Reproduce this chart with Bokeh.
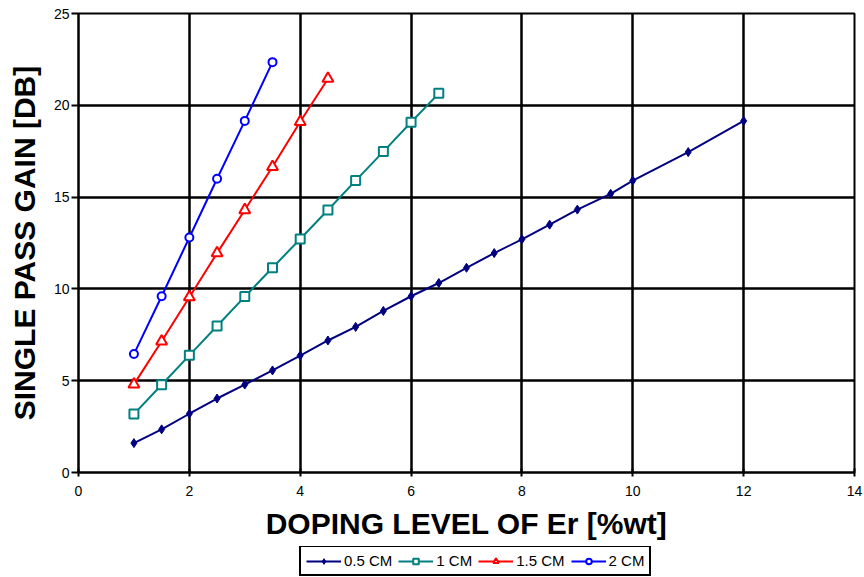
from bokeh.plotting import figure
from bokeh.layouts import column
from bokeh.models import Range1d, Legend, LegendItem, FixedTicker
from bokeh.embed import file_html
from bokeh.resources import INLINE

# ---- data ----
x_05 = [1, 1.5, 2, 2.5, 3, 3.5, 4, 4.5, 5, 5.5, 6, 6.5, 7, 7.5, 8, 8.5, 9, 9.6, 10, 11, 12]
y_05 = [1.6, 2.35, 3.2, 4.03, 4.79, 5.56, 6.37, 7.19, 7.93, 8.8, 9.6, 10.32, 11.15, 11.95,
        12.7, 13.5, 14.32, 15.18, 15.9, 17.45, 19.15]
x_1 = [1, 1.5, 2, 2.5, 3, 3.5, 4, 4.5, 5, 5.5, 6, 6.5]
y_1 = [3.18, 4.78, 6.38, 7.98, 9.58, 11.15, 12.72, 14.3, 15.9, 17.48, 19.08, 20.65]
x_15 = [1, 1.5, 2, 2.5, 3, 3.5, 4, 4.5]
y_15 = [4.8, 7.15, 9.55, 11.95, 14.3, 16.65, 19.1, 21.45]
x_2 = [1, 1.5, 2, 2.5, 3, 3.5]
y_2 = [6.45, 9.6, 12.8, 16.0, 19.15, 22.35]
series_labels = ["0.5 CM", "1 CM", "1.5 CM", "2 CM"]
x_ticks = [0, 2, 4, 6, 8, 10, 12, 14]
y_ticks = [0, 5, 10, 15, 20, 25]

FONT = "'Liberation Sans', Arial, sans-serif"
NARROW = "'Liberation Sans Narrow', 'Liberation Sans', Arial, sans-serif"

# series styles
styles = [
    dict(color="#000080", marker="diamond", size=9, fill="#000080"),
    dict(color="#008080", marker="square", size=9, fill="white"),
    dict(color="#FF0000", marker="triangle", size=11, fill="white"),
    dict(color="#0000FF", marker="circle", size=8, fill="white"),
]
series = [(x_05, y_05), (x_1, y_1), (x_15, y_15), (x_2, y_2)]

p = figure(frame_width=776, frame_height=459, output_backend="svg", toolbar_location=None,
           x_range=Range1d(0, 14), y_range=Range1d(0, 25),
           min_border_left=78, min_border_top=13, min_border_right=10, min_border_bottom=74)
p.background_fill_color = "white"
p.border_fill_color = "white"
p.outline_line_color = "black"
p.outline_line_width = 2

for g in (p.xgrid, p.ygrid):
    g.grid_line_color = "black"
    g.grid_line_width = 2.5
p.xgrid.ticker = FixedTicker(ticks=x_ticks)
p.ygrid.ticker = FixedTicker(ticks=y_ticks)

p.xaxis.ticker = FixedTicker(ticks=x_ticks)
p.yaxis.ticker = FixedTicker(ticks=y_ticks)
for ax in (p.xaxis, p.yaxis):
    ax.axis_line_color = "black"
    ax.axis_line_width = 2
    ax.major_tick_line_color = "black"
    ax.major_tick_line_width = 2
    ax.minor_tick_line_color = None
    ax.major_label_text_color = "black"
    ax.axis_label_text_font_style = "bold"
    ax.axis_label_text_color = "black"
    ax.axis_label_text_font_size = "30px"
    ax.axis_label_text_font = FONT

p.xaxis.major_tick_in = 4
p.xaxis.major_tick_out = 4
p.xaxis.major_label_text_font = NARROW
p.xaxis.major_label_text_font_size = "14px"
p.xaxis.major_label_standoff = 9
p.xaxis.axis_label = "DOPING LEVEL OF Er [%wt]"
p.xaxis.axis_label_standoff = 8

p.yaxis.major_tick_in = 0
p.yaxis.major_tick_out = 7
p.yaxis.major_label_text_font = FONT
p.yaxis.major_label_text_font_size = "14px"
p.yaxis.major_label_standoff = 2
p.yaxis.axis_label = "SINGLE PASS GAIN [DB]"
p.yaxis.axis_label_standoff = 10

for (xs, ys), st in zip(series, styles):
    p.line(xs, ys, line_color=st["color"], line_width=2)
    p.scatter(xs, ys, marker=st["marker"], size=st["size"], fill_color=st["fill"],
              line_color=st["color"], line_width=2 if st["fill"] == "white" else 1)

# legend strip underneath (separate figure holding only the legend;
# its ranges keep the series themselves out of view)
pl = figure(width=864, height=31, output_backend="svg", toolbar_location=None,
            x_range=Range1d(100, 101), y_range=Range1d(100, 101),
            min_border_left=0, min_border_right=0, min_border_top=0, min_border_bottom=0)
pl.axis.visible = False
pl.grid.visible = False
pl.outline_line_color = None
pl.background_fill_color = "white"
pl.border_fill_color = "white"
items = []
for (xs, ys), lab, st in zip(series, series_labels, styles):
    lr = pl.line(xs, ys, line_color=st["color"], line_width=2)
    sr = pl.scatter(xs, ys, marker=st["marker"], size=st["size"] - 1, fill_color=st["fill"],
                    line_color=st["color"], line_width=2 if st["fill"] == "white" else 1)
    items.append(LegendItem(label=lab, renderers=[lr, sr], index=0))
legend = Legend(items=items, orientation="horizontal", location=(221, 1),
                border_line_color="black", border_line_width=2, border_line_alpha=1.0,
                label_text_font=FONT, label_text_font_size="15px", label_text_color="black",
                glyph_width=35, glyph_height=14, spacing=6, padding=5,
                label_standoff=3, margin=0, background_fill_color="white",
                background_fill_alpha=1.0)
pl.add_layout(legend, "center")

open("out.html", "w").write(file_html(column(p, pl, spacing=0), INLINE))
